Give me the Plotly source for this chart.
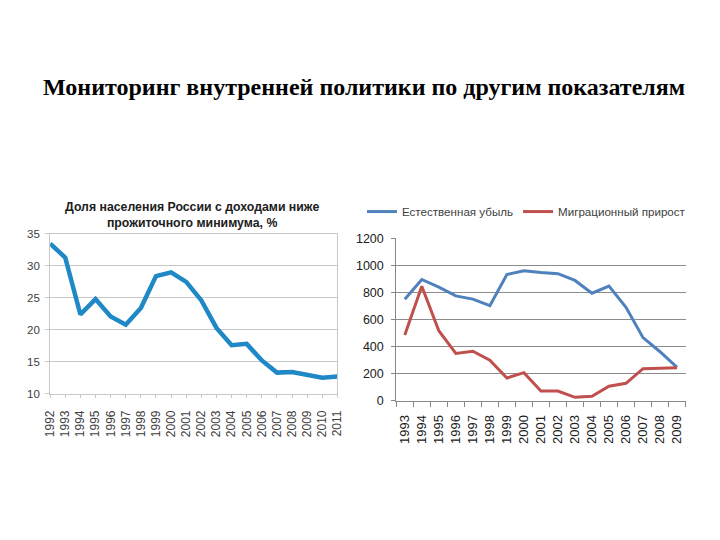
import plotly.graph_objects as go

# Left chart data
years_left = [str(y) for y in range(1992, 2012)]
poverty_pct = [33.5, 31.3, 22.4, 24.8, 22.1, 20.8, 23.4, 28.4, 29.0, 27.5,
               24.6, 20.3, 17.6, 17.8, 15.2, 13.3, 13.4, 13.0, 12.5, 12.7]

# Right chart data
years_right = [str(y) for y in range(1993, 2010)]
natural_decline = [750, 895, 838, 774, 750, 702, 932, 960, 946, 938,
                   888, 794, 846, 690, 466, 362, 247]
migration_gain = [486, 845, 517, 350, 366, 300, 168, 208, 72, 72,
                  26, 34, 108, 129, 237, 240, 244]

left_title = "Доля населения России с доходами ниже<br>прожиточного минимума, %"
main_title = "Мониторинг внутренней политики по другим показателям"
name_blue = "Естественная убыль"
name_red = "Миграционный прирост"

W, H = 720, 540
def px(x):
    return x / W
def py(y):
    return 1 - y / H

fig = go.Figure()

fig.add_trace(go.Scatter(
    x=years_left, y=poverty_pct, mode="lines",
    line=dict(color="#1f88c6", width=4.5),
    xaxis="x", yaxis="y", showlegend=False,
))
fig.add_trace(go.Scatter(
    x=years_right, y=natural_decline, mode="lines", name=name_blue,
    line=dict(color="#4f81bd", width=3),
    xaxis="x2", yaxis="y2",
))
fig.add_trace(go.Scatter(
    x=years_right, y=migration_gain, mode="lines", name=name_red,
    line=dict(color="#c0504d", width=3),
    xaxis="x2", yaxis="y2",
))

fig.update_layout(
    width=W, height=H,
    margin=dict(l=0, r=0, t=0, b=0),
    paper_bgcolor="white", plot_bgcolor="white",
    font=dict(family="Liberation Sans, Arial, sans-serif", color="#404040"),
    xaxis=dict(
        domain=[px(44), px(337)], anchor="y",
        type="category", range=[0, 19],
        tickangle=-90, tickfont=dict(size=12, color="#404040"),
        showgrid=False, showline=True, linecolor="#c8c8c8", linewidth=1,
        mirror=True, ticks="outside", ticklen=3, tickcolor="#c8c8c8",
        ticklabelstandoff=8, zeroline=False,
    ),
    yaxis=dict(
        domain=[py(397), py(233)], anchor="x",
        range=[10, 35], dtick=5,
        tickfont=dict(size=11.5, color="#404040"),
        showgrid=True, gridcolor="#c8c8c8", gridwidth=1,
        showline=True, linecolor="#c8c8c8", linewidth=1, mirror=True,
        ticks="outside", ticklen=4, tickcolor="#c8c8c8",
        ticklabelstandoff=3, zeroline=False,
    ),
    xaxis2=dict(
        domain=[px(397), px(692)], anchor="y2",
        type="category", range=[-0.5, 16.5],
        tickangle=-90, tickfont=dict(size=13, color="#202020"),
        showgrid=False, showline=True, linecolor="#888888", linewidth=1,
        ticks="outside", tickson="boundaries", ticklen=5, tickcolor="#888888",
        ticklabelstandoff=8, zeroline=False,
    ),
    yaxis2=dict(
        domain=[py(404.3), py(237.3)], anchor="x2",
        range=[0, 1200], dtick=200,
        tickfont=dict(size=12.5, color="#202020"),
        showgrid=True, gridcolor="#8c8c8c", gridwidth=1,
        showline=True, linecolor="#888888", linewidth=1,
        ticks="outside", ticklen=4, tickcolor="#888888",
        ticklabelstandoff=5, zeroline=False,
    ),
    legend=dict(
        orientation="h", x=px(362), y=py(210), xanchor="left", yanchor="middle",
        font=dict(size=11.6, color="#404040"), bgcolor="rgba(0,0,0,0)",
        itemwidth=30, tracegroupgap=0,
    ),
    annotations=[
        dict(text="<b>" + main_title + "</b>", x=px(364), y=py(82),
             xref="paper", yref="paper", showarrow=False,
             xanchor="center", yanchor="middle",
             font=dict(family="Liberation Serif, Times New Roman, serif",
                       size=24, color="black")),
        dict(text="<b>" + left_title + "</b>", x=px(189), y=py(214),
             xref="paper", yref="paper", showarrow=False,
             xanchor="center", yanchor="middle",
             font=dict(family="Liberation Sans, Arial, sans-serif",
                       size=12.3, color="#202020")),
    ],
)

fig.write_html(
    "out.html",
    config={"displayModeBar": False},
    post_script="document.body.style.margin='0';document.body.style.overflow='hidden';",
)
